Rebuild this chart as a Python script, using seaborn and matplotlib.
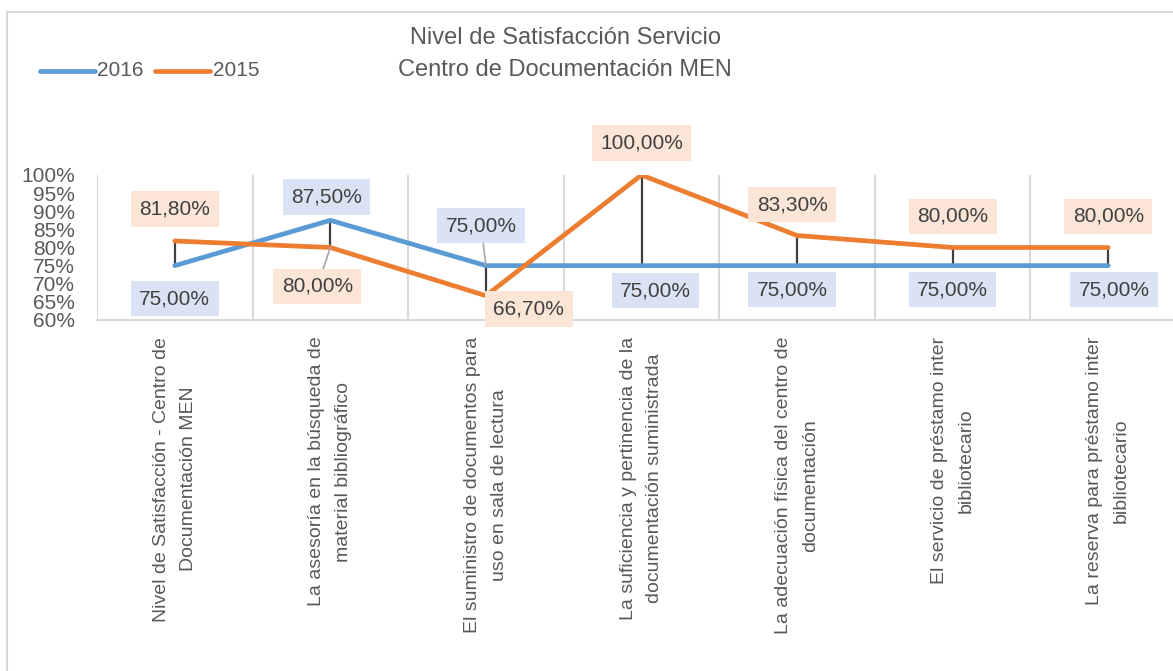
import matplotlib
matplotlib.use("Agg")
import matplotlib.pyplot as plt
import seaborn as sns
import pandas as pd
from matplotlib.patches import Rectangle
from matplotlib.lines import Line2D

categories = [
    "Nivel de Satisfacción - Centro de\nDocumentación MEN",
    "La asesoría en la búsqueda de\nmaterial bibliográfico",
    "El suministro de documentos para\nuso en sala de lectura",
    "La suficiencia y pertinencia de la\ndocumentación suministrada",
    "La adecuación física del centro de\ndocumentación",
    "El servicio de préstamo inter\nbibliotecario",
    "La reserva para préstamo inter\nbibliotecario",
]
values_2016 = [75.0, 87.5, 75.0, 75.0, 75.0, 75.0, 75.0]
values_2015 = [81.8, 80.0, 66.7, 100.0, 83.3, 80.0, 80.0]
series_names = ["2016", "2015"]
yticks = [60, 65, 70, 75, 80, 85, 90, 95, 100]
title = "Nivel de Satisfacción Servicio\nCentro de Documentación MEN"

sns.set_theme(style="white")
FAM = ["Liberation Sans Narrow", "Liberation Sans", "DejaVu Sans"]
plt.rcParams["font.family"] = FAM
TXT = "#595959"
BLUE = "#5B9BD5"
ORANGE = "#ED7D31"

W, H = 1173, 671
fig = plt.figure(figsize=(W / 100, H / 100), dpi=100)

# outer chart border
fig.patches.append(Rectangle((7 / W, -0.1), 1.2, 1 - 12 / H + 0.1, transform=fig.transFigure,
                             fill=False, edgecolor="#d9d9d9", linewidth=1.5))

left, right, top, bottom = 97, 1186, 175, 320
ax = fig.add_axes([left / W, 1 - bottom / H, (right - left) / W, (bottom - top) / H])

n = len(categories)
df = pd.DataFrame({
    "pos": list(range(n)) * 2,
    "value": values_2016 + values_2015,
    "year": [series_names[0]] * n + [series_names[1]] * n,
})

# drop lines (high-low)
for i in range(n):
    lo, hi = sorted([values_2016[i], values_2015[i]])
    ax.plot([i, i], [lo, hi], color="#404040", lw=1.6, zorder=2, solid_capstyle="butt")

sns.lineplot(data=df, x="pos", y="value", hue="year", hue_order=series_names,
             palette={"2016": BLUE, "2015": ORANGE}, linewidth=3.4, ax=ax,
             legend=False, zorder=3, solid_capstyle="round", sort=False)

ax.set_xlim(-0.5, n - 0.5)
ax.set_ylim(60, 100)
ax.set_yticks(yticks)
ax.set_yticklabels([f"{t}%" for t in yticks], fontsize=15, color=TXT, family=FAM)
ax.set_xticks(range(n))
ax.set_xticklabels(categories, rotation=90, fontsize=14, color=TXT, family=FAM,
                   va="top", ha="center", multialignment="center", linespacing=1.75)
ax.tick_params(axis="both", length=0)
ax.tick_params(axis="y", pad=16)
ax.tick_params(axis="x", pad=12)
ax.set_xlabel("")
ax.set_ylabel("")
for s in ["top", "right", "left"]:
    ax.spines[s].set_visible(False)
ax.spines["bottom"].set_color("#d9d9d9")
ax.spines["bottom"].set_linewidth(1.5)
for b in range(n + 1):
    ax.axvline(b - 0.5, color="#d9d9d9", lw=1.5, zorder=0)

# data labels: offsets in pixels
off_2016 = [(0, -33), (-4, 23), (-5, 40), (14, -25), (-5, -24), (0, -24), (6, -24)]
off_2015 = [(0, 32), (-13, -39), (43, -13), (0, 32), (-5, 31), (0, 31), (0, 31)]
leader_2016 = [False, False, True, False, False, False, False]
leader_2015 = [False, True, False, False, False, False, False]


def fmt(v):
    return f"{v:.2f}".replace(".", ",") + "%"


def label(i, v, off, color, leader):
    kw = dict(textcoords="offset pixels", ha="center", va="center", fontsize=15,
              color="#404040", family=FAM, zorder=5,
              bbox=dict(boxstyle="square,pad=0.4", fc=color, ec="none"))
    if leader:
        kw["arrowprops"] = dict(arrowstyle="-", color="#a6a6a6", lw=1.2, shrinkA=0, shrinkB=0)
    ax.annotate(fmt(v), xy=(i, v), xytext=off, **kw)


for i in range(n):
    label(i, values_2016[i], off_2016[i], "#DAE3F3", leader_2016[i])
    label(i, values_2015[i], off_2015[i], "#FBE5D6", leader_2015[i])

# title
fig.text(565 / W, 1 - 54 / H, title, ha="center", va="center", fontsize=17,
         color=TXT, family=FAM, linespacing=1.6)

# legend
ly = 1 - 71 / H
for (x0, x1, tx, c, name) in [(40, 95, 97, BLUE, series_names[0]),
                                (155, 210, 213, ORANGE, series_names[1])]:
    fig.add_artist(Line2D([x0 / W, x1 / W], [ly, ly], transform=fig.transFigure,
                          color=c, lw=3.4, solid_capstyle="round"))
    fig.text(tx / W, ly, name, ha="left", va="center", fontsize=15, color=TXT, family=FAM)

fig.savefig("out.png", dpi=100)
